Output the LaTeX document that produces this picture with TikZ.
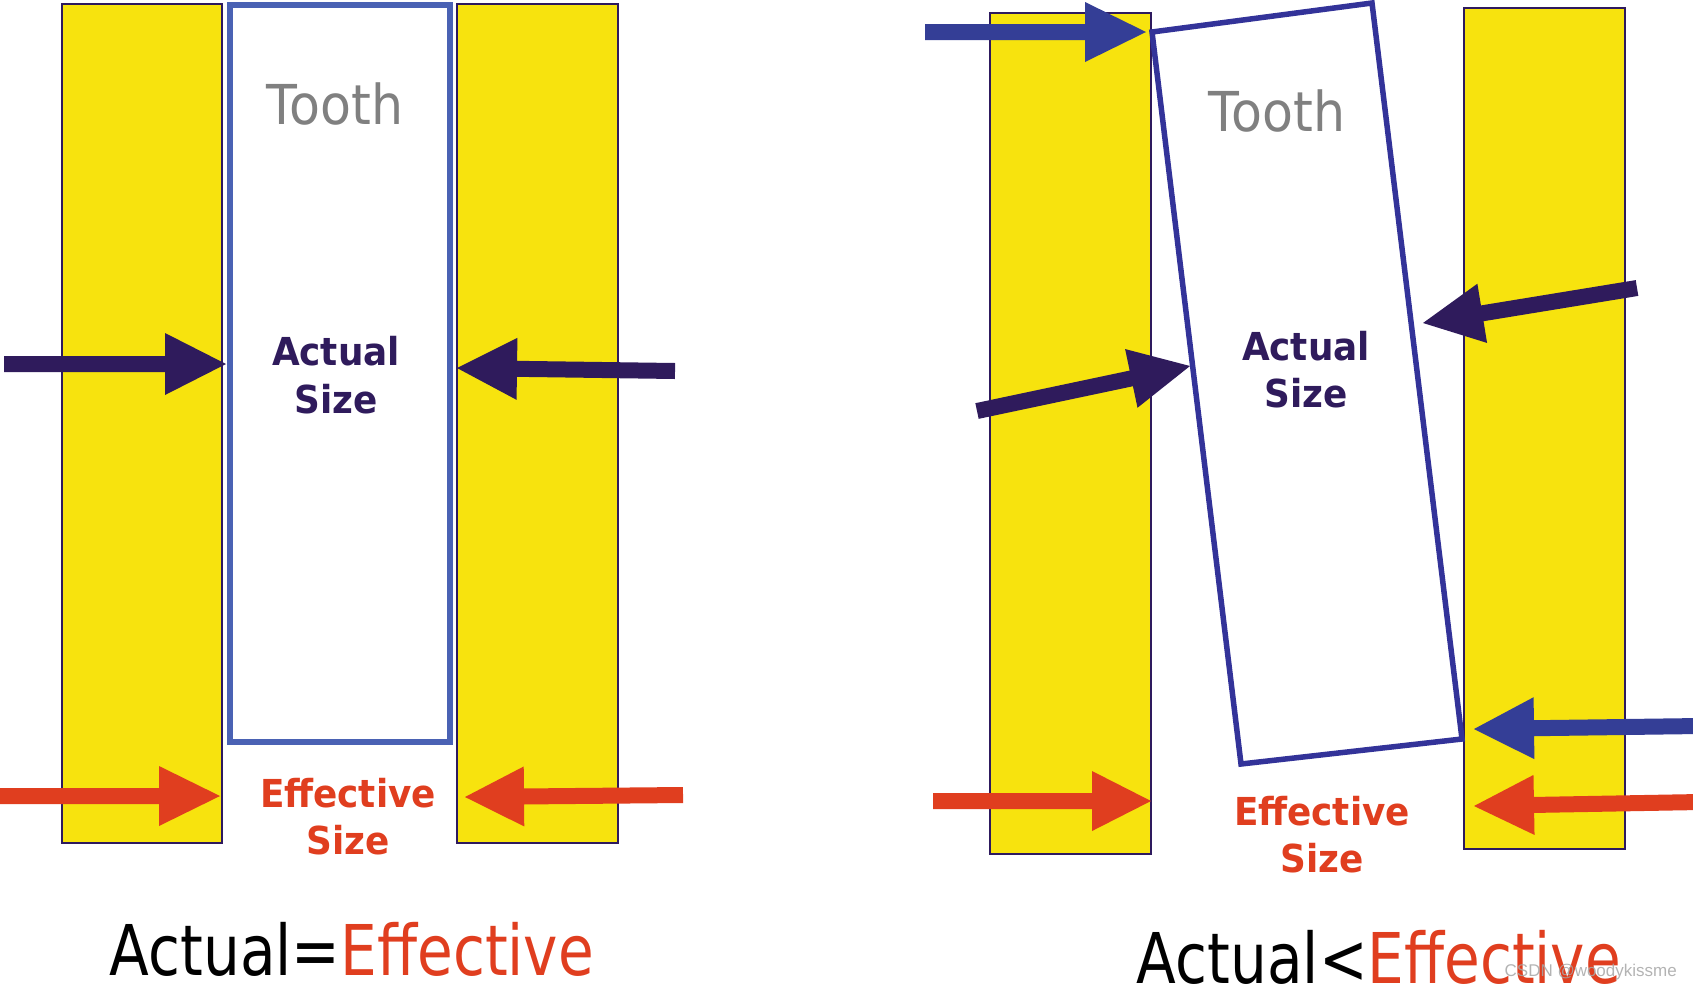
\documentclass[tikz,border=0pt]{standalone}
\usepackage{fontspec}
\setmainfont{DejaVu Sans}
\newfontfamily\toothfont[FakeStretch=0.92]{DejaVu Sans}
\newfontfamily\labfont[FakeStretch=0.93]{DejaVu Sans}
\newfontfamily\eqfont[FakeStretch=0.83]{DejaVu Sans}
\newfontfamily\wmfont{Liberation Sans}
\usetikzlibrary{calc}
\definecolor{barY}{RGB}{247,227,14}
\definecolor{barEdge}{RGB}{46,26,94}
\definecolor{darkP}{RGB}{47,27,92}
\definecolor{toothL}{RGB}{74,98,180}
\definecolor{toothR}{RGB}{51,51,153}
\definecolor{blueA}{RGB}{52,62,150}
\definecolor{redA}{RGB}{224,62,31}
\definecolor{toothTxt}{RGB}{128,128,128}
% #1 tail, #2 tip, #3 colour, #4 half shaft, #5 head length, #6 half head width
\newcommand\fatarrow[6]{%
  \coordinate (hb) at ($(#2)!#5!(#1)$);
  \fill[#3] ($(#1)!#4!90:(#2)$) -- ($(hb)!#4!90:(#2)$) -- ($(hb)!#6!90:(#2)$)
    -- (#2) -- ($(hb)!#6!-90:(#2)$) -- ($(hb)!#4!-90:(#2)$) -- ($(#1)!#4!-90:(#2)$) -- cycle;
}
\tikzset{
  bar/.style={fill=barY, draw=barEdge, line width=2pt},
  tooth/.style={fill=white, line width=5.5pt, line join=miter},
  toothlbl/.style={text=toothTxt, font=\toothfont\fontsize{55}{55}\selectfont, anchor=base, inner sep=0pt},
  actlbl/.style={text=darkP, font=\labfont\bfseries\fontsize{38.5}{38.5}\selectfont, anchor=base, inner sep=0pt},
  efflbl/.style={text=redA, font=\labfont\bfseries\fontsize{38.5}{38.5}\selectfont, anchor=base, inner sep=0pt},
  eqlbl/.style={font=\eqfont\fontsize{70}{70}\selectfont, anchor=base, inner sep=0pt, text depth=0pt},
}
\begin{document}
\begin{tikzpicture}[x=1pt, y=-1pt]
\useasboundingbox (0,0) rectangle (1693,988);
% ---------- left panel ----------
\draw[bar] (62,4) rectangle (222,843);
\draw[bar] (457,4) rectangle (618,843);
\draw[tooth, draw=toothL] (230,5) rectangle (450,742);
\node[toothlbl] (t1) at (335,124) {Tooth};
\node[actlbl] (a1) at (336,365) {Actual};
\node[actlbl] (s1) at (336,413) {Size};
\node[efflbl] (e1) at (348,807) {Effective};
\node[efflbl] (es1) at (348,854) {Size};
\node[eqlbl] (q1) at (352,975) {Actual=\textcolor{redA}{Effective}};
\coordinate (L1t) at (4,364);   \coordinate (L1h) at (226,364);
\coordinate (L2t) at (675,371); \coordinate (L2h) at (457,368);
\coordinate (L3t) at (-2,796);  \coordinate (L3h) at (220,796);
\coordinate (L4t) at (683,795); \coordinate (L4h) at (465,797);
\fatarrow{L1t}{L1h}{darkP}{8pt}{61pt}{31pt}
\fatarrow{L2t}{L2h}{darkP}{8pt}{60pt}{31pt}
\fatarrow{L3t}{L3h}{redA}{8pt}{61pt}{30pt}
\fatarrow{L4t}{L4h}{redA}{8pt}{59pt}{30pt}
% ---------- right panel ----------
\draw[bar] (990,13) rectangle (1151,854);
\draw[bar] (1464,8) rectangle (1625,849);
\draw[tooth, draw=toothR] (1152,32) -- (1372,3) -- (1462,739) -- (1241,764) -- cycle;
\node[toothlbl] (t2) at (1277,131) {Tooth};
\node[actlbl] (a2) at (1306,360) {Actual};
\node[actlbl] (s2) at (1306,407) {Size};
\node[efflbl] (e2) at (1322,825) {Effective};
\node[efflbl] (es2) at (1322,872) {Size};
\node[eqlbl] (q2) at (1379,983) {Actual<\textcolor{redA}{Effective}};
\coordinate (R1t) at (925,32);   \coordinate (R1h) at (1146,32);
\coordinate (R2t) at (977,411);  \coordinate (R2h) at (1190,366);
\coordinate (R3t) at (1637,288); \coordinate (R3h) at (1423,323);
\coordinate (R4t) at (1700,726); \coordinate (R4h) at (1474,729);
\coordinate (R5t) at (933,801);  \coordinate (R5h) at (1151,801);
\coordinate (R6t) at (1700,802); \coordinate (R6h) at (1474,806);
\fatarrow{R1t}{R1h}{blueA}{8pt}{61pt}{30pt}
\fatarrow{R2t}{R2h}{darkP}{8pt}{60pt}{30pt}
\fatarrow{R3t}{R3h}{darkP}{8pt}{60pt}{30pt}
\fatarrow{R4t}{R4h}{blueA}{8pt}{60pt}{31pt}
\fatarrow{R5t}{R5h}{redA}{8pt}{59pt}{30pt}
\fatarrow{R6t}{R6h}{redA}{8pt}{60pt}{30pt}
\node[text=gray!70, opacity=0.85, font=\wmfont\fontsize{17}{17}\selectfont, anchor=base east, inner sep=0pt] (wm) at (1677,976) {CSDN @woodykissme};
\end{tikzpicture}
\end{document}
